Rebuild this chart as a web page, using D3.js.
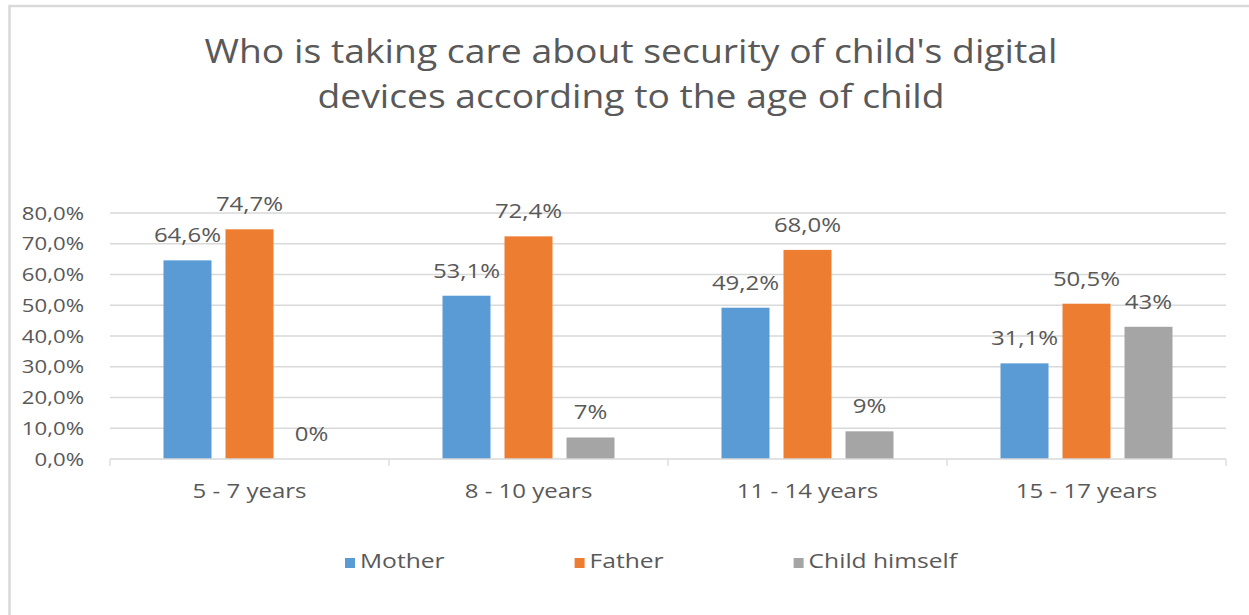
<!DOCTYPE html>
<html>
<head>
<meta charset="utf-8">
<script src="https://cdn.jsdelivr.net/npm/d3@7"></script>
<style>
html,body{margin:0;padding:0;background:#fff;}
svg{display:block;}
text{font-family:"Open Sans",sans-serif;fill:#595959;}
</style>
</head>
<body>
<svg id="chart" width="1249" height="615"></svg>
<script>
const titleLines = ["Who is taking care about security of child's digital", "devices according to the age of child"];
const categories = ["5 - 7 years", "8 - 10 years", "11 - 14 years", "15 - 17 years"];
const seriesNames = ["Mother", "Father", "Child himself"];
const seriesColors = ["#5b9bd5", "#ed7d31", "#a5a5a5"];
const mother = [64.6, 53.1, 49.2, 31.1];
const father = [74.7, 72.4, 68.0, 50.5];
const child = [0, 7, 9, 43];
const valueLabels = [
  ["64,6%", "53,1%", "49,2%", "31,1%"],
  ["74,7%", "72,4%", "68,0%", "50,5%"],
  ["0%", "7%", "9%", "43%"]
];
const yTicks = [0, 10, 20, 30, 40, 50, 60, 70, 80];
const yTickLabels = ["0,0%", "10,0%", "20,0%", "30,0%", "40,0%", "50,0%", "60,0%", "70,0%", "80,0%"];

const values = [mother, father, child];
const SX = 1.2;
const svg = d3.select("#chart");

// chart border
svg.append("rect").attr("x", 9.5).attr("y", 6).attr("width", 1300).attr("height", 700)
  .attr("fill", "none").attr("stroke", "#d9d9d9").attr("stroke-width", 2.5);

function stretchedText(sel, x, y, anchor, size, sx) {
  return sel.append("text")
    .attr("transform", `translate(${x},${y}) scale(${sx},1)`)
    .attr("text-anchor", anchor)
    .style("font-size", size + "px");
}

// title
const titleY = [63, 108];
const titleW = [853, 627];
titleLines.forEach((t, i) => {
  svg.append("text").attr("x", 631).attr("y", titleY[i]).attr("text-anchor", "middle")
    .style("font-size", "33px").attr("textLength", titleW[i]).attr("lengthAdjust", "spacingAndGlyphs")
    .text(t);
});

const x0 = d3.scaleBand().domain(categories).range([110, 1226]).paddingInner(0).paddingOuter(0);
const x1 = d3.scaleBand().domain(seriesNames).range([53.5, 225.5]).paddingInner(14 / 62).paddingOuter(0);
const y = d3.scaleLinear().domain([0, 80]).range([459, 213]);

// gridlines
svg.append("g").selectAll("line").data(yTicks.filter(d => d > 0)).join("line")
  .attr("x1", 110).attr("x2", 1226).attr("y1", d => y(d)).attr("y2", d => y(d))
  .attr("stroke", "#d9d9d9").attr("stroke-width", 1.3);

// y tick labels
yTicks.forEach((t, i) => {
  stretchedText(svg, 84, y(t) + 6.5, "end", 18.5, SX).text(yTickLabels[i]);
});

// bars
seriesNames.forEach((s, si) => {
  const g = svg.append("g");
  g.selectAll("rect").data(categories).join("rect")
    .attr("x", c => x0(c) + x1(s))
    .attr("y", (c, ci) => y(values[si][ci]))
    .attr("width", x1.bandwidth())
    .attr("height", (c, ci) => y(0) - y(values[si][ci]))
    .attr("fill", seriesColors[si]);
  categories.forEach((c, ci) => {
    stretchedText(g, x0(c) + x1(s) + x1.bandwidth() / 2, y(values[si][ci]) - 18, "middle", 20, SX)
      .text(valueLabels[si][ci]);
  });
});

// x axis
svg.append("line").attr("x1", 110).attr("x2", 1226).attr("y1", y(0)).attr("y2", y(0))
  .attr("stroke", "#d9d9d9").attr("stroke-width", 1.3);
const bounds = categories.map(c => x0(c)).concat([x0.range()[1]]);
svg.append("g").selectAll("line").data(bounds).join("line")
  .attr("x1", d => d).attr("x2", d => d).attr("y1", y(0)).attr("y2", y(0) + 7)
  .attr("stroke", "#d9d9d9").attr("stroke-width", 1.3);
categories.forEach(c => {
  stretchedText(svg, x0(c) + x0.bandwidth() / 2, 498, "middle", 20, SX).text(c);
});

// legend
let lx = 345;
seriesNames.forEach((s, i) => {
  svg.append("rect").attr("x", lx).attr("y", 558).attr("width", 10).attr("height", 10).attr("fill", seriesColors[i]);
  const t = stretchedText(svg, lx + 15, 568, "start", 20.5, SX).text(s);
  const w = t.node().getComputedTextLength() * SX;
  lx = lx + 15 + w + 130;
});
</script>
</body>
</html>
